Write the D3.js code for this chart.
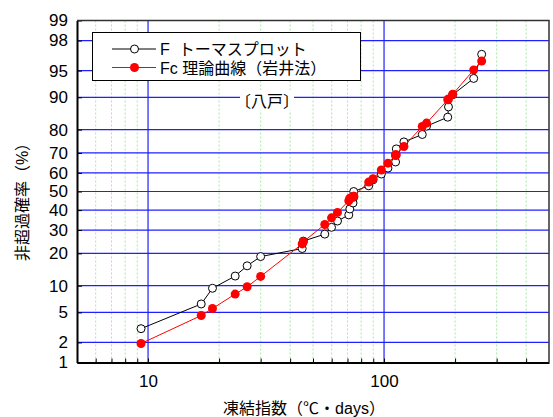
<!DOCTYPE html>
<html>
<head>
<meta charset="utf-8">
<script src="https://cdn.jsdelivr.net/npm/d3@7"></script>
<style>
  body { margin: 0; background: #fff; }
  svg text { font-family: "Liberation Sans", "Noto Sans CJK JP", sans-serif; }
</style>
</head>
<body>
<svg id="chart" width="553" height="417"></svg>
<script>
// freezing index (°C·days), sorted
const freezeIndex = [9.34, 16.8, 18.75, 23.4, 26.3, 30.0, 45.0, 45.5, 56.1, 59.9,
    63.5, 70.9, 71.6, 73.9, 74.4, 74.4, 86.1, 89.8, 97.4, 103.9,
    111.9, 111.9, 112.7, 121.4, 145.2, 151.4, 186.2, 187.5, 195.4, 239.8, 259.2];
// F: Thomas plot (%)
const thomasF = [3.1, 6.3, 9.4, 12.5, 15.6, 18.8, 21.9, 25.0, 28.1, 31.3,
    34.4, 37.5, 40.6, 43.8, 46.9, 50.0, 53.1, 56.3, 59.4, 62.5,
    65.6, 68.8, 71.9, 75.0, 78.1, 81.3, 84.4, 87.5, 90.6, 93.8, 96.9];
// Fc: theoretical curve, Iwai method (%)
const iwaiFc = [1.93, 4.58, 5.57, 8.14, 9.74, 12.4, 23.8, 24.7, 32.7, 36.0,
    38.8, 45.0, 46.4, 47.3, 47.4, 47.4, 55.1, 56.9, 61.5, 65.0,
    69.0, 69.0, 69.1, 73.0, 81.2, 82.4, 89.4, 89.6, 90.7, 95.1, 96.2];

const yTicks = [1, 2, 5, 10, 20, 30, 40, 50, 60, 70, 80, 90, 95, 98, 99];
const xMajor = [10, 100];
const xMinor = [6, 7, 8, 9, 20, 30, 40, 50, 60, 70, 80, 90, 200, 300, 400];
const xLabels = [10, 100];

// inverse normal cdf (Acklam) for the probability paper axis
function probit(p) {
    const a = [-3.969683028665376e+01, 2.209460984245205e+02, -2.759285104469687e+02, 1.383577518672690e+02, -3.066479806614716e+01, 2.506628277459239e+00];
    const b = [-5.447609879822406e+01, 1.615858368580409e+02, -1.556989798598866e+02, 6.680131188771972e+01, -1.328068155288572e+01];
    const c = [-7.784894002430293e-03, -3.223964580411365e-01, -2.400758277161838e+00, -2.549732539343734e+00, 4.374664141464968e+00, 2.938163982698783e+00];
    const d = [7.784695709041462e-03, 3.224671290700398e-01, 2.445134137142996e+00, 3.754408661907416e+00];
    const pl = 0.02425;
    let q, r;
    if (p < pl) {
        q = Math.sqrt(-2 * Math.log(p));
        return (((((c[0]*q+c[1])*q+c[2])*q+c[3])*q+c[4])*q+c[5]) / ((((d[0]*q+d[1])*q+d[2])*q+d[3])*q+1);
    } else if (p <= 1 - pl) {
        q = p - 0.5; r = q * q;
        return (((((a[0]*r+a[1])*r+a[2])*r+a[3])*r+a[4])*r+a[5])*q / (((((b[0]*r+b[1])*r+b[2])*r+b[3])*r+b[4])*r+1);
    } else {
        q = Math.sqrt(-2 * Math.log(1 - p));
        return -(((((c[0]*q+c[1])*q+c[2])*q+c[3])*q+c[4])*q+c[5]) / ((((d[0]*q+d[1])*q+d[2])*q+d[3])*q+1);
    }
}

const svg = d3.select("#chart");
const pLeft = 77, pRight = 549, pTop = 20.5, pBottom = 362.5;

const x = d3.scaleLog().domain([5, 500]).range([pLeft, pRight]);
const yz = d3.scaleLinear().domain([probit(0.01), probit(0.99)]).range([pBottom, pTop]);
const y = p => yz(probit(p / 100));

// minor vertical grid (green dotted)
svg.append("g").selectAll("line").data(xMinor).enter().append("line")
    .attr("x1", d => x(d)).attr("x2", d => x(d))
    .attr("y1", pTop).attr("y2", pBottom)
    .attr("stroke", "#a8e8a8").attr("stroke-width", 1)
    .attr("stroke-dasharray", "2,2");

// horizontal grid
svg.append("g").selectAll("line").data(yTicks.slice(1, -1)).enter().append("line")
    .attr("x1", pLeft).attr("x2", pRight)
    .attr("y1", d => y(d)).attr("y2", d => y(d))
    .attr("stroke", "#2020ff").attr("stroke-width", 1.2);

// major vertical grid
svg.append("g").selectAll("line").data(xMajor).enter().append("line")
    .attr("x1", d => x(d)).attr("x2", d => x(d))
    .attr("y1", pTop).attr("y2", pBottom)
    .attr("stroke", "#2020ff").attr("stroke-width", 1.2);

// left axis
const yAxis = d3.axisLeft(yz)
    .tickValues(yTicks.map(p => probit(p / 100)))
    .tickFormat((d, i) => yTicks[i])
    .tickSizeInner(-5).tickSizeOuter(0).tickPadding(9);
const gy = svg.append("g").attr("transform", `translate(${pLeft},0)`).call(yAxis);
gy.select(".domain").attr("stroke", "#000").attr("stroke-width", 2);
gy.selectAll(".tick line").attr("stroke", "#000");
gy.selectAll("text").attr("font-size", 17).attr("fill", "#000");

// bottom axis
const xAxis = d3.axisBottom(x)
    .tickValues(xMinor.concat(xMajor))
    .tickFormat(d => xLabels.includes(d) ? d : "")
    .tickSizeInner(-4).tickSizeOuter(0).tickPadding(12);
const gx = svg.append("g").attr("transform", `translate(0,${pBottom})`).call(xAxis);
gx.select(".domain").attr("stroke", "#000").attr("stroke-width", 2);
gx.selectAll(".tick line").attr("stroke", "#000");
gx.selectAll("text").attr("font-size", 17).attr("fill", "#000");

// top and right frame
svg.append("path")
    .attr("d", `M${pLeft},${pTop}H${pRight}V${pBottom}`)
    .attr("fill", "none").attr("stroke", "#333").attr("stroke-width", 1.5);

// series F (Thomas plot)
const ptsF = freezeIndex.map((v, i) => [x(v), y(thomasF[i])]);
const ptsFc = freezeIndex.map((v, i) => [x(v), y(iwaiFc[i])]);

svg.append("path").datum(ptsF)
    .attr("d", d3.line())
    .attr("fill", "none").attr("stroke", "#000").attr("stroke-width", 1);
svg.append("g").selectAll("circle").data(ptsF).enter().append("circle")
    .attr("cx", d => d[0]).attr("cy", d => d[1]).attr("r", 4)
    .attr("fill", "#fff").attr("stroke", "#000").attr("stroke-width", 1);

// series Fc (Iwai)
svg.append("path").datum(ptsFc)
    .attr("d", d3.line())
    .attr("fill", "none").attr("stroke", "#ff0000").attr("stroke-width", 1);
svg.append("g").selectAll("circle").data(ptsFc).enter().append("circle")
    .attr("cx", d => d[0]).attr("cy", d => d[1]).attr("r", 4.5)
    .attr("fill", "#ff0000");

// legend
const lg = svg.append("g");
lg.append("rect").attr("x", 92.5).attr("y", 32.5).attr("width", 268).attr("height", 48)
    .attr("fill", "#fff").attr("stroke", "#000").attr("stroke-width", 1);
lg.append("line").attr("x1", 112).attr("x2", 156).attr("y1", 49).attr("y2", 49)
    .attr("stroke", "#000");
lg.append("circle").attr("cx", 134.5).attr("cy", 49).attr("r", 4)
    .attr("fill", "#fff").attr("stroke", "#000");
lg.append("text").attr("x", 160).attr("y", 55).attr("font-size", 16)
    .attr("xml:space", "preserve").text("F  トーマスプロット");
lg.append("line").attr("x1", 112).attr("x2", 156).attr("y1", 67.5).attr("y2", 67.5)
    .attr("stroke", "#ff0000");
lg.append("circle").attr("cx", 134.5).attr("cy", 67.5).attr("r", 4.5)
    .attr("fill", "#ff0000");
lg.append("text").attr("x", 160).attr("y", 73.5).attr("font-size", 16)
    .text("Fc 理論曲線（岩井法）");

// station note
svg.append("rect").attr("x", 240).attr("y", 90).attr("width", 54).attr("height", 20).attr("fill", "#fff");
svg.append("text").attr("x", 267).attr("y", 107).attr("text-anchor", "middle")
    .attr("font-size", 16).text("〔八戸〕");

// axis titles
svg.append("text").attr("x", 304).attr("y", 414).attr("text-anchor", "middle")
    .attr("font-size", 16).text("凍結指数（℃・days）");
svg.append("text").attr("transform", "translate(28,198) rotate(-90)")
    .attr("text-anchor", "middle").attr("font-size", 16).text("非超過確率（%）");
</script>
</body>
</html>
